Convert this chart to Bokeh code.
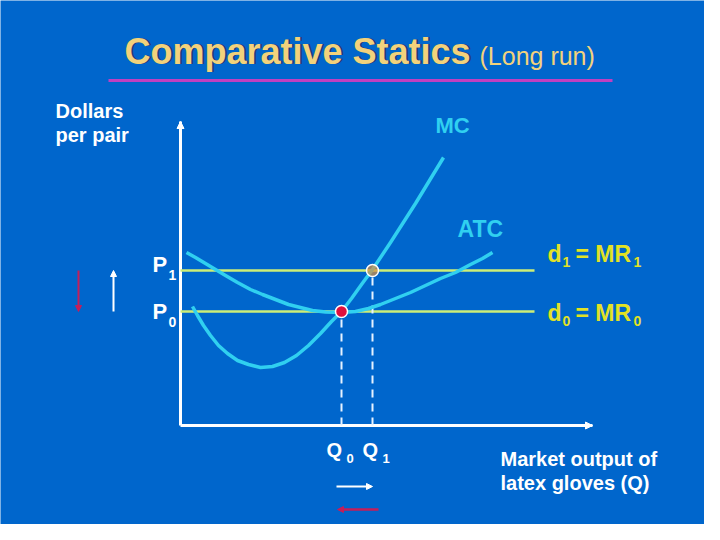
from bokeh.plotting import figure
from bokeh.models import Range1d, Arrow, NormalHead
from bokeh.core.properties import value
from bokeh.embed import file_html
from bokeh.resources import INLINE

# ---- data (1 unit = 20 px) ----
mc_q = [0.6, 0.85, 1.15, 1.5, 1.9, 2.35, 2.85, 3.4, 4.0, 4.6, 5.2, 5.8, 6.4, 7.0, 7.55,
        8.05, 8.55, 9.05, 9.6, 10.5, 11.75, 13.15]
mc_p = [5.95, 5.5, 5.0, 4.5, 4.0, 3.6, 3.25, 3.05, 2.9, 2.95, 3.15, 3.5, 4.0, 4.6, 5.2,
        5.7, 6.35, 7.05, 7.8, 9.15, 11.1, 13.4]
atc_q = [0.3, 0.75, 1.25, 1.75, 2.25, 2.85, 3.5, 4.1, 4.75, 5.4, 6.0, 6.6, 7.25, 8.05,
         8.75, 9.4, 10.0, 10.75, 11.5, 12.25, 13.0, 13.75, 14.5, 15.1, 15.6]
atc_p = [8.65, 8.4, 8.1, 7.8, 7.5, 7.15, 6.8, 6.55, 6.3, 6.05, 5.9, 5.75, 5.675, 5.65,
         5.7, 5.85, 6.05, 6.35, 6.65, 7.0, 7.35, 7.65, 8.05, 8.35, 8.65]
prices = [5.7, 7.75]          # P0, P1
quantities = [8.05, 9.6]      # Q0, Q1
price_line_end = 17.7
q_axis_max = 20.6
p_axis_max = 15.2

BG = "#0066CC"
CYAN = "#30D0F0"
GREEN = "#CCEE77"
YELLOW = "#E2E224"
WHITE = "#FFFFFF"
TITLE = "#F2D27C"
RED = "#C41E5A"
FONT = value("Liberation Sans")

p = figure(width=704, height=524, output_backend="svg", toolbar_location=None,
           x_range=Range1d(-9.0, 26.2), y_range=Range1d(-4.95, 21.25),
           min_border=0, x_axis_location=None, y_axis_location=None)
p.background_fill_color = BG
p.border_fill_color = BG
p.outline_line_color = None
p.grid.visible = False


def label(x, y, txt, size, color, style="bold", dx=0):
    p.text(x=[x], y=[y], text=[txt], text_font=FONT, text_font_size=value(f"{size}px"),
           text_font_style=style, text_color=color, text_align="left",
           text_baseline="alphabetic", x_offset=dx, y_offset=-round(0.4 * size))


# title
label(-2.8, 18.0, "Comparative Statics", 36, "#1A3F78", dx=2)
label(-2.8, 18.0, "Comparative Statics", 36, TITLE)
label(14.95, 18.0, "(Long run)", 25, TITLE, "normal")
p.line(x=[-3.6, 21.6], y=[17.25, 17.25], line_color="#C040C0", line_width=3)

# axes
p.segment(x0=[0], y0=[0], x1=[0], y1=[p_axis_max], line_color=WHITE, line_width=3)
p.segment(x0=[0], y0=[0], x1=[q_axis_max], y1=[0], line_color=WHITE, line_width=3)
p.add_layout(Arrow(end=NormalHead(size=7, fill_color=WHITE, line_color=WHITE),
                   x_start=0, y_start=p_axis_max - 0.3, x_end=0, y_end=p_axis_max,
                   line_color=WHITE, line_width=2))
p.add_layout(Arrow(end=NormalHead(size=7, fill_color=WHITE, line_color=WHITE),
                   x_start=q_axis_max - 0.3, y_start=0, x_end=q_axis_max, y_end=0,
                   line_color=WHITE, line_width=2))

# price lines
for pr in prices:
    p.line(x=[0, price_line_end], y=[pr, pr], line_color=GREEN, line_width=2.5)

# dashed drop lines
p.segment(x0=quantities, y0=[0, 0], x1=quantities, y1=prices,
          line_color="#E6F2FF", line_width=2, line_dash="8 6")

# curves
p.line(x=atc_q, y=atc_p, line_color=CYAN, line_width=3.5, line_join="round")
p.line(x=mc_q, y=mc_p, line_color=CYAN, line_width=3.5, line_join="round")

# equilibrium points
p.scatter(x=[quantities[0]], y=[prices[0]], size=12, fill_color="#E0103C",
          line_color=WHITE, line_width=1.5)
p.scatter(x=[quantities[1]], y=[prices[1]], size=12, fill_color="#D89040",
          fill_alpha=0.7, line_color=WHITE, line_width=1.5)

# labels
label(-6.25, 15.35, "Dollars", 20, WHITE)
label(-6.25, 14.15, "per pair", 20, WHITE)
label(12.75, 14.55, "MC", 22, CYAN)
label(13.85, 9.4, "ATC", 23, CYAN)

label(-1.4, 7.6, "P", 22, WHITE)
label(-0.6, 7.25, "1", 14, WHITE)
label(-1.4, 5.25, "P", 22, WHITE)
label(-0.6, 4.9, "0", 14, WHITE)

for base, sub in [(8.15, "1"), (5.2, "0")]:
    label(18.35, base, "d", 23, YELLOW)
    label(19.1, base - 0.25, sub, 14, YELLOW)
    label(19.75, base, "= MR", 23, YELLOW)
    label(22.65, base - 0.25, sub, 14, YELLOW)

label(7.3, -1.6, "Q", 20, WHITE)
label(8.3, -1.9, "0", 13, WHITE)
label(9.1, -1.6, "Q", 20, WHITE)
label(10.1, -1.9, "1", 13, WHITE)

label(16.0, -2.05, "Market output of", 20, WHITE)
label(16.0, -3.25, "latex gloves (Q)", 20, WHITE)

# shift arrows
p.add_layout(Arrow(end=NormalHead(size=6, fill_color=RED, line_color=RED),
                   x_start=-5.1, y_start=prices[1], x_end=-5.1, y_end=prices[0],
                   line_color=RED, line_width=2))
p.add_layout(Arrow(end=NormalHead(size=6, fill_color=WHITE, line_color=WHITE),
                   x_start=-3.35, y_start=prices[0], x_end=-3.35, y_end=prices[1],
                   line_color=WHITE, line_width=2))
p.add_layout(Arrow(end=NormalHead(size=6, fill_color=WHITE, line_color=WHITE),
                   x_start=quantities[0] - 0.25, y_start=-3.05, x_end=quantities[1], y_end=-3.05,
                   line_color=WHITE, line_width=2))
p.add_layout(Arrow(end=NormalHead(size=6, fill_color=RED, line_color=RED),
                   x_start=quantities[1] + 0.3, y_start=-4.2, x_end=quantities[0] - 0.2, y_end=-4.2,
                   line_color=RED, line_width=2.5))

open("out.html", "w").write(file_html(p, INLINE))
